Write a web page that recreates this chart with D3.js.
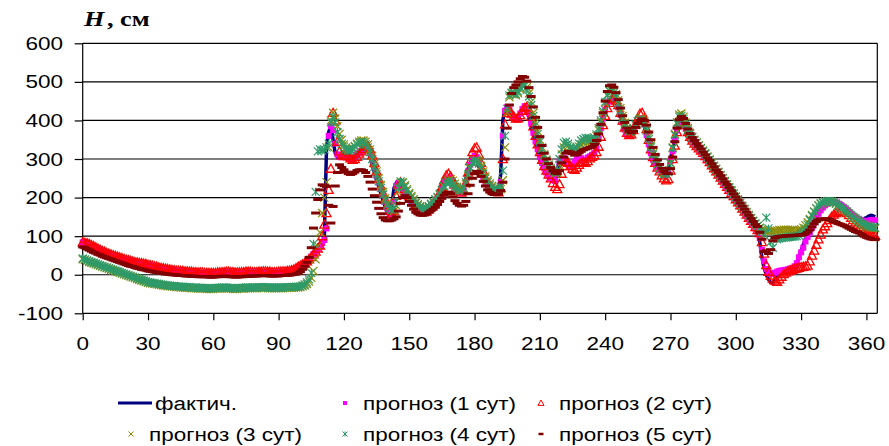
<!DOCTYPE html>
<html>
<head>
<meta charset="utf-8">
<script src="https://cdn.jsdelivr.net/npm/d3@7"></script>
<style>
  body { margin: 0; background: #fff; }
  svg { display: block; }
  text { font-family: "Liberation Sans", Arial, sans-serif; fill: #000; }
</style>
</head>
<body>
<div id="chart"></div>
<script>
/*------ Chart data: water level H (cm), day of year 0..364 ------*/

var yTicks = [-100, 0, 100, 200, 300, 400, 500, 600];
var xTicks = [0, 30, 60, 90, 120, 150, 180, 210, 240, 270, 300, 330, 360];

// фактич.
var actual = [
  86,84,81,78,75,72,69,66,63,60, 58,55,53,51,49,47,45,43,41,39,
  37,36,34,33,31,30,29,28,27,26, 24,23,21,20,18,17,16,15,14,13,
  12,11,10,10,9,9,8,8,7,6, 6,5,5,4,4,4,3,3,3,3,
  3,4,4,5,5,6,6,5,5,4, 4,4,5,5,6,6,6,5,5,5,
  6,6,7,7,6,6,5,5,5,6, 6,7,7,8,9,10,13,16,20,22,
  24,28,33,38,45,52,58,65,72,80, 86,95,330,370,385,350,315,305,308,311,
  310,305,300,298,302,310,315,320,325,328, 328,320,305,285,265,245,228,210,192,175,
  160,151,180,225,238,235,225,215,205,198, 192,185,178,172,166,162,160,162,168,175,
  180,185,192,205,218,230,242,250,251,245, 235,225,218,213,212,225,250,275,290,305,
  310,300,280,262,246,238,230,222,218,215, 212,215,260,400,430,433,425,412,405,402,
  410,422,432,437,432,410,385,362,340,320, 300,285,272,262,255,250,245,242,270,300,
  305,300,290,285,280,285,295,300,305,300, 295,300,305,308,312,318,330,360,385,410,
  432,444,450,455,452,445,430,410,390,372, 362,362,368,378,388,398,404,406,385,355,
  332,310,295,285,275,268,262,259,260,275, 300,325,352,378,395,400,392,375,360,350,
  342,336,330,324,318,310,302,294,286,278, 270,262,254,246,238,230,222,214,206,198,
  190,182,174,166,158,150,142,135,126,118, 108,85,45,18,0,-12,-20,-22,-15,-2,
  2,4,5,6,8,10,12,15,20,50, 62,78,92,102,115,128,142,155,165,172,
  180,184,187,189,190,190,188,185,182,178, 175,170,165,160,155,151,148,146,145,146,
  148,152,154,153,150
];

// прогноз (1 сут)
var fc1 = [
  84,84,82,79,76,73,70,67,64,61, 59,56,54,52,50,48,46,44,42,40,
  38,37,35,34,32,31,30,29,28,27, 25,24,22,21,19,18,17,16,15,14,
  13,12,11,10,10,9,9,8,8,7, 6,6,5,5,4,4,4,3,3,3,
  3,3,4,4,5,5,6,6,5,5, 4,4,4,5,5,6,6,6,5,5,
  5,6,6,7,7,6,6,5,5,5, 6,6,7,7,8,9,10,13,16,20,
  22,25,29,34,40,47,54,60,67,74, 82,90,120,360,385,375,340,312,305,308,
  311,309,304,300,299,304,311,316,321,326, 329,325,315,298,278,258,240,224,206,189,
  172,158,155,190,230,238,232,222,212,203, 196,189,182,175,169,164,161,161,166,172,
  178,183,189,200,213,226,238,248,252,248, 240,230,221,215,212,218,240,268,285,300,
  308,305,290,270,252,241,233,225,219,215, 213,213,240,360,425,435,428,415,407,403,
  407,418,430,437,435,418,392,368,345,325, 305,290,276,265,257,251,246,243,260,292,
  303,302,293,286,281,283,292,299,304,302, 296,298,304,307,311,316,326,352,380,405,
  428,442,450,455,454,447,434,415,395,376, 364,361,366,376,386,396,403,406,390,362,
  338,315,298,287,277,270,264,260,259,270, 295,320,348,374,393,400,395,378,363,352,
  344,337,331,325,319,312,304,296,288,280, 272,264,256,248,240,232,224,216,208,200,
  192,184,176,168,160,152,145,137,129,120, 112,95,65,35,15,6,2,3,5,8,
  10,11,12,13,14,16,18,22,30,45, 58,70,86,98,110,122,135,148,158,167,
  174,180,184,186,188,188,187,184,181,177, 173,168,163,158,153,149,145,142,140,138,
  138,140,142,142,141
];

// прогноз (2 сут)
var fc2 = [
  84,83,82,80,77,74,71,68,65,62, 60,57,55,53,51,49,47,45,43,41,
  39,38,36,35,33,32,31,30,29,28, 26,25,24,22,21,19,18,17,16,15,
  14,13,12,11,11,10,10,9,9,8, 8,7,7,6,6,6,5,5,5,5,
  5,5,6,6,7,7,8,8,7,7, 6,6,6,7,7,8,8,8,7,7,
  7,8,8,9,9,8,8,7,7,7, 8,8,9,9,10,11,12,14,17,21,
  24,27,30,35,40,46,53,60,68,76, 100,130,160,220,275,420,400,345,320,310,
  308,310,307,302,298,300,306,314,320,326, 332,334,326,310,290,268,248,230,212,195,
  180,166,158,165,205,232,240,233,222,212, 204,197,190,183,176,170,166,163,164,170,
  177,184,190,198,212,228,245,258,262,255, 245,234,224,217,213,218,238,265,295,318,
  328,330,312,290,268,250,240,232,225,220, 216,214,225,300,390,420,425,418,410,405,
  406,414,425,432,435,428,410,385,360,338, 318,298,282,270,260,250,238,228,222,235,
  262,282,292,290,282,275,272,278,285,290, 292,290,295,302,306,310,318,332,358,388,
  412,432,446,455,458,452,440,420,400,382, 368,362,364,375,390,405,418,420,405,378,
  350,325,305,290,278,268,258,250,245,248, 270,300,335,370,395,410,405,388,370,358,
  348,340,334,328,322,316,308,300,292,284, 276,268,260,252,244,236,228,220,212,204,
  196,188,180,172,164,156,148,140,132,124, 116,108,85,55,25,8,-2,-10,-15,-18,
  -12,-5,2,6,9,11,13,15,16,18, 20,21,22,24,35,50,63,78,92,104,
  118,126,134,142,150,156,160,163,165,166, 164,160,155,148,142,136,130,124,118,113,
  109,106,104,102,101
];

// прогноз (3 сут)
var fc3 = [
  40,38,36,33,31,29,27,25,23,21, 19,17,15,13,11,9,7,5,3,1,
  -1,-3,-5,-7,-9,-11,-13,-15,-17,-19, -21,-22,-23,-24,-25,-26,-27,-28,-29,-30,
  -30,-31,-31,-32,-32,-33,-33,-34,-34,-34, -35,-35,-35,-36,-36,-36,-36,-37,-37,-37,
  -37,-36,-36,-36,-35,-35,-35,-36,-36,-37, -37,-37,-36,-36,-36,-35,-35,-35,-35,-35,
  -35,-34,-34,-34,-34,-35,-35,-35,-35,-35, -35,-35,-35,-34,-34,-34,-34,-34,-33,-33,
  -32,-30,-28,-24,-18,-8,10,40,75,110, 160,200,240,330,400,420,405,385,365,350,
  338,330,326,325,328,334,340,345,348,348, 345,338,325,308,288,268,250,232,215,198,
  185,175,168,165,180,215,238,240,232,222, 212,204,196,189,183,178,174,172,172,176,
  182,188,194,200,208,218,228,238,245,248, 244,236,228,222,220,222,235,255,275,290,
  296,298,294,282,268,255,245,237,230,225, 222,220,222,245,330,420,460,470,468,465,
  470,480,490,492,486,470,448,420,395,372, 350,330,312,298,286,276,268,262,265,285,
  312,330,336,334,328,322,320,325,332,338, 342,345,345,346,348,352,360,375,395,420,
  445,465,478,482,478,468,452,432,412,394, 380,372,372,378,388,398,405,405,398,380,
  358,335,315,300,288,278,270,265,262,268, 290,330,365,395,415,418,410,395,380,368,
  358,350,343,336,329,322,315,307,299,291, 283,275,267,259,251,243,235,227,219,211,
  203,195,187,179,171,163,155,147,140,133, 127,122,118,115,113,112,112,113,114,115,
  116,116,117,117,117,116,116,115,115,116, 118,122,128,136,145,155,164,172,179,184,
  187,189,190,190,189,187,184,180,176,172, 167,162,157,152,147,143,139,135,131,128,
  125,123,121,120,120
];

// прогноз (4 сут)
var fc4 = [
  42,40,37,35,33,31,29,27,25,23, 21,19,17,15,13,11,9,7,5,3,
  1,-1,-3,-5,-7,-9,-11,-13,-15,-17, -19,-20,-21,-22,-23,-24,-25,-26,-27,-28,
  -28,-29,-29,-30,-30,-31,-31,-32,-32,-32, -33,-33,-33,-34,-34,-34,-34,-35,-35,-35,
  -35,-34,-34,-34,-33,-33,-33,-34,-34,-35, -35,-35,-34,-34,-34,-33,-33,-33,-33,-33,
  -33,-32,-32,-32,-32,-33,-33,-33,-33,-33, -33,-33,-33,-32,-32,-32,-32,-32,-31,-31,
  -30,-28,-25,-20,-12,5,80,215,320,325, 322,325,330,340,395,410,395,370,352,340,
  332,326,322,322,326,332,338,342,344,343, 338,330,318,300,280,260,242,225,208,192,
  180,172,168,170,190,225,242,238,228,218, 208,200,192,186,180,176,172,170,172,178,
  184,190,196,202,210,220,230,238,242,240, 234,228,222,218,218,225,240,260,278,290,
  295,294,288,276,262,250,240,232,226,222, 220,220,228,270,360,430,465,472,470,468,
  475,485,492,490,480,462,440,412,388,365, 345,326,310,296,284,275,268,265,272,300,
  325,342,345,340,332,326,324,330,340,348, 352,355,354,352,352,356,364,380,400,424,
  448,466,476,478,472,460,445,425,405,390, 378,372,374,380,390,398,402,400,392,374,
  352,330,312,298,286,276,268,262,260,266, 288,328,362,392,410,412,404,390,376,365,
  356,348,341,334,327,320,313,305,297,289, 281,273,265,257,249,241,233,225,217,209,
  201,193,185,177,169,161,153,146,139,132, 126,120,112,105,148,120,85,70,95,92,
  94,95,96,96,97,98,98,99,100,102, 106,112,120,130,142,153,163,172,180,185,
  188,190,191,191,190,188,185,181,177,173, 169,164,159,154,150,146,142,138,134,131,
  128,126,124,123,122
];

// прогноз (5 сут)
var fc5 = [
  72,70,67,64,61,58,56,53,51,48, 46,44,42,40,38,36,34,32,30,28,
  26,24,22,21,19,17,16,14,13,12, 10,9,8,7,6,5,4,3,2,2,
  1,0,0,-1,-1,-2,-2,-3,-3,-3, -4,-4,-4,-5,-5,-5,-5,-5,-6,-6,
  -6,-5,-5,-5,-4,-4,-4,-5,-5,-5, -6,-6,-5,-5,-5,-4,-4,-4,-3,-3,
  -3,-3,-2,-2,-2,-3,-3,-3,-3,-3, -3,-2,-2,-2,-1,-1,0,1,2,4,
  8,14,22,32,45,70,121,160,195,220, 233,231,229,180,134,177,230,265,285,278,
  272,266,262,260,262,266,270,272,272,270, 265,255,240,222,205,188,172,158,148,142,
  140,140,142,145,150,165,185,200,205,200, 190,180,170,162,158,155,154,155,158,162,
  166,170,175,182,190,198,206,212,214,210, 202,192,185,180,178,180,190,210,232,250,
  262,268,265,255,242,230,220,214,210,208, 208,210,218,240,300,380,440,470,485,492,
  500,508,514,512,502,485,462,435,408,382, 358,335,315,300,288,278,270,264,262,270,
  290,305,315,320,318,314,310,312,316,320, 324,326,328,330,332,338,348,365,390,420,
  450,475,490,492,486,472,454,432,412,395, 380,372,368,372,382,392,400,404,400,388,
  370,350,330,312,298,286,276,268,263,262, 275,305,345,380,402,410,405,392,378,366,
  356,348,340,333,326,318,311,303,296,288, 280,272,265,257,249,241,234,226,218,210,
  202,194,186,178,170,162,154,146,138,130, 125,110,92,60,62,55,65,88,96,98,
  99,100,100,101,101,101,102,102,102,103, 103,104,106,110,116,124,132,138,142,145,
  143,145,145,144,140,138,136,133,131,129, 127,124,121,118,115,112,110,108,104,100,
  97,95,93,92,91
];

var legendNames = ["фактич.", "прогноз (1 сут)", "прогноз (2 сут)",
                   "прогноз (3 сут)", "прогноз (4 сут)", "прогноз (5 сут)"];

/*------ Canvas ------*/

var width = 889, height = 446;
var svg = d3.select("#chart").append("svg")
  .attr("width", width)
  .attr("height", height);

var x = d3.scaleLinear().domain([0, 365]).range([82.7, 877.3]);
var y = d3.scaleLinear().domain([-100, 600]).range([313.3, 43.3]);

// the original picture is stretched horizontally, so text is too
var SX = 1.25;
function stext(px, py, str, anchor, size) {
  return svg.append("text")
    .attr("transform", "translate(" + px + "," + py + ") scale(" + SX + ",1)")
    .attr("text-anchor", anchor)
    .style("font-size", size + "px")
    .text(str);
}

/*------ Grid, frame and axes ------*/

svg.selectAll(".grid")
  .data(yTicks)
  .enter().append("line")
    .attr("x1", x(0)).attr("x2", x(365))
    .attr("y1", function(d) { return y(d); })
    .attr("y2", function(d) { return y(d); })
    .attr("stroke", "#000").attr("stroke-width", 1.2);

svg.append("line")
  .attr("x1", x(0)).attr("x2", x(0)).attr("y1", y(600)).attr("y2", y(-100))
  .attr("stroke", "#000").attr("stroke-width", 1.2);
svg.append("line")
  .attr("x1", x(365)).attr("x2", x(365)).attr("y1", y(600)).attr("y2", y(-100))
  .attr("stroke", "#000").attr("stroke-width", 1.2);

var yAxis = svg.append("g")
  .attr("transform", "translate(" + x(0) + ",0)")
  .call(d3.axisLeft(y).tickValues(yTicks).tickSize(8).tickFormat(""));
yAxis.select(".domain").remove();
yAxis.selectAll("line").attr("stroke", "#000").attr("stroke-width", 1.2);

var xAxis = svg.append("g")
  .attr("transform", "translate(0," + y(-100) + ")")
  .call(d3.axisBottom(x).tickValues(xTicks).tickSize(7).tickFormat(""));
xAxis.select(".domain").remove();
xAxis.selectAll("line").attr("stroke", "#000").attr("stroke-width", 1.2);

yTicks.forEach(function(v) {
  stext(63, y(v) + 6.5, v, "end", 18);
});
xTicks.forEach(function(v) {
  stext(x(v), 350, v, "middle", 18);
});

// title  H, см
svg.append("text")
  .attr("transform", "translate(84,26) scale(" + SX + ",1)")
  .style("font-family", "'Liberation Serif', 'Times New Roman', serif")
  .style("font-size", "21px")
  .style("font-weight", "bold")
  .call(function(t) {
    t.append("tspan").style("font-style", "italic").text("H");
    t.append("tspan").attr("dx", 2).text(", см");
  });

/*------ Marker shapes ------*/

function mSquare(s) { var h = s / 2; return "M" + (-h) + "," + (-h) + "h" + s + "v" + s + "h" + (-s) + "Z"; }
function mTriangle(s) { var h = s / 2; return "M0," + (-h) + "L" + h + "," + (h * 0.8) + "L" + (-h) + "," + (h * 0.8) + "Z"; }
function mCross(s) { var h = s / 2; return "M" + (-h) + "," + (-h) + "L" + h + "," + h + "M" + h + "," + (-h) + "L" + (-h) + "," + h; }
function mStar(s) { var h = s / 2; return mCross(s) + "M0," + (-h) + "V" + h; }
function mDash(s) { var h = s / 2; return "M" + (-h) + ",0H" + h; }

var series = [
  { values: fc1, path: mSquare(6),   fill: "#ff00ff", stroke: "none",    sw: 0,   legend: mSquare(4) },
  { values: fc2, path: mTriangle(9), fill: "none",    stroke: "#ff0000", sw: 1.3, legend: mTriangle(6) },
  { values: fc3, path: mCross(8),    fill: "none",    stroke: "#8a8a00", sw: 1.2, legend: mCross(5) },
  { values: fc4, path: mStar(8),     fill: "none",    stroke: "#2e9a6a", sw: 1.2, legend: mStar(5) },
  { values: fc5, path: mDash(9),     fill: "none",    stroke: "#800000", sw: 3,   legend: mDash(5) }
];

/*------ Actual level line ------*/

var line = d3.line()
  .x(function(d, i) { return x(i); })
  .y(function(d) { return y(d); });

svg.append("path")
  .datum(actual)
  .attr("d", line)
  .attr("fill", "none")
  .attr("stroke", "#000080")
  .attr("stroke-width", 3.5)
  .attr("stroke-linejoin", "round");

/*------ Forecast markers ------*/

series.forEach(function(s) {
  svg.append("g").selectAll("path")
    .data(s.values)
    .enter().append("path")
      .attr("transform", function(d, i) { return "translate(" + x(i) + "," + y(d) + ")"; })
      .attr("d", s.path)
      .attr("fill", s.fill)
      .attr("stroke", s.stroke)
      .attr("stroke-width", s.sw);
});

/*------ Legend ------*/

var legPos = [
  [135, 403], [345, 403], [541, 403],
  [131, 434], [345, 434], [541, 434]
];

svg.append("line")
  .attr("x1", 118).attr("x2", 152).attr("y1", 403).attr("y2", 403)
  .attr("stroke", "#000080").attr("stroke-width", 3);
stext(155, 409.5, legendNames[0], "start", 18);

series.forEach(function(s, i) {
  var p = legPos[i + 1];
  svg.append("path")
    .attr("transform", "translate(" + p[0] + "," + p[1] + ")")
    .attr("d", s.legend)
    .attr("fill", s.fill)
    .attr("stroke", s.stroke)
    .attr("stroke-width", i == 4 ? 2.5 : 1);
  stext(p[0] + 18, p[1] + 6.5, legendNames[i + 1], "start", 18);
});
</script>
</body>
</html>
